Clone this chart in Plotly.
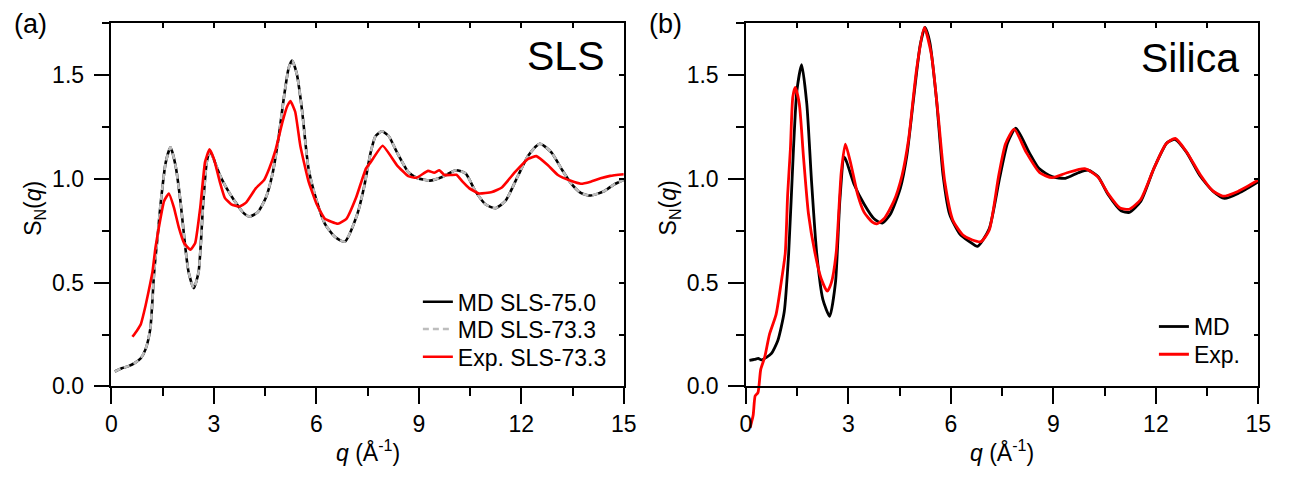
import plotly.graph_objects as go

# ---------------- data: panel (a) SLS ----------------
q_md750 = [0.1, 0.3, 0.5, 0.7, 0.86, 1.0, 1.14, 1.25, 1.35, 1.44, 1.59, 1.73, 1.875, 2.02, 2.16, 2.26,
           2.41, 2.55, 2.69, 2.79, 2.88, 3.03, 3.17, 3.37, 3.61, 3.85, 4.04, 4.28, 4.52, 4.71, 4.9,
           5.05, 5.19, 5.29, 5.43, 5.58, 5.77, 6.01, 6.25, 6.54, 6.83, 7.2, 7.39, 7.59, 7.73, 7.92,
           8.12, 8.36, 8.69, 8.93, 9.32, 9.7, 10.09, 10.37, 10.66, 10.95, 11.24, 11.53, 11.91, 12.2,
           12.54, 12.88, 13.17, 13.45, 13.74, 14.03, 14.41, 14.7, 15.0]
s_md750 = [0.072, 0.088, 0.098, 0.115, 0.136, 0.18, 0.28, 0.55, 0.72, 0.88, 1.08, 1.152, 1.066, 0.893,
           0.674, 0.55, 0.474, 0.55, 0.893, 1.081, 1.136, 1.081, 1.02, 0.956, 0.893, 0.839, 0.819, 0.839,
           0.909, 1.02, 1.207, 1.394, 1.535, 1.571, 1.504, 1.332, 1.05, 0.893, 0.784, 0.721, 0.698,
           0.831, 0.956, 1.128, 1.206, 1.23, 1.206, 1.128, 1.034, 1.006, 0.992, 1.011, 1.042, 1.026,
           0.94, 0.878, 0.859, 0.893, 1.018, 1.112, 1.17, 1.128, 1.05, 0.98, 0.933, 0.92, 0.94, 0.972,
           0.995]
# MD SLS-73.3 lies on top of MD SLS-75.0 in the figure
q_md733 = list(q_md750)
s_md733 = list(s_md750)

q_exp_sls = [0.615, 0.75, 0.86, 1.0, 1.14, 1.2, 1.29, 1.39, 1.54, 1.68, 1.83, 1.97, 2.13, 2.31, 2.45,
             2.6, 2.74, 2.87, 3.0, 3.17, 3.32, 3.51, 3.75, 3.94, 4.23, 4.47, 4.62, 4.81, 5.0, 5.14,
             5.24, 5.38, 5.53, 5.77, 6.01, 6.25, 6.63, 6.88, 7.16, 7.45, 7.59, 7.94, 8.36, 8.69, 8.93,
             9.27, 9.45, 9.6, 9.75, 9.94, 10.1, 10.28, 10.47, 10.76, 11.14, 11.43, 11.82, 12.2, 12.44,
             12.78, 13.07, 13.45, 13.74, 14.03, 14.32, 14.6, 15.0]
s_exp_sls = [0.239, 0.27, 0.30, 0.39, 0.50, 0.55, 0.67, 0.768, 0.893, 0.93, 0.862, 0.768, 0.69, 0.659,
             0.69, 0.862, 1.081, 1.143, 1.097, 0.988, 0.909, 0.878, 0.867, 0.886, 0.956, 0.995, 1.05,
             1.143, 1.27, 1.348, 1.376, 1.324, 1.16, 0.988, 0.878, 0.808, 0.784, 0.808, 0.909, 1.05,
             1.081, 1.16, 1.066, 1.014, 1.006, 1.039, 1.03, 1.042, 1.019, 1.019, 1.02, 0.987, 0.956,
             0.930, 0.937, 0.959, 1.034, 1.097, 1.11, 1.066, 1.019, 0.991, 0.977, 0.987, 1.003, 1.015,
             1.023]

# ---------------- data: panel (b) Silica ----------------
q_md_si = [0.1, 0.25, 0.36, 0.45, 0.6, 0.74, 0.93, 1.12, 1.25, 1.39, 1.49, 1.63, 1.78, 1.92, 2.07,
           2.25, 2.45, 2.62, 2.75, 2.88, 3.17, 3.46, 3.75, 3.99, 4.23, 4.52, 4.71, 4.9, 5.1, 5.24,
           5.38, 5.58, 5.77, 5.96, 6.25, 6.54, 6.78, 7.12, 7.42, 7.66, 7.9, 8.29, 8.58, 8.96, 9.35,
           9.73, 10.02, 10.31, 10.6, 10.98, 11.22, 11.56, 11.94, 12.33, 12.57, 12.9, 13.28, 13.67,
           14.01, 14.44, 15.0]
s_md_si = [0.125, 0.13, 0.135, 0.128, 0.14, 0.158, 0.22, 0.36, 0.643, 1.144, 1.425, 1.551, 1.363,
           0.987, 0.643, 0.42, 0.338, 0.50, 0.9, 1.105, 0.972, 0.878, 0.808, 0.787, 0.831, 0.956,
           1.113, 1.378, 1.645, 1.73, 1.66, 1.378, 1.018, 0.831, 0.737, 0.698, 0.675, 0.76, 1.0,
           1.175, 1.245, 1.128, 1.05, 1.011, 1.003, 1.03, 1.042, 1.011, 0.925, 0.847, 0.839, 0.893,
           1.05, 1.175, 1.19, 1.128, 1.018, 0.941, 0.906, 0.933, 0.987]

q_exp_si = [0.12, 0.21, 0.27, 0.35, 0.43, 0.55, 0.69, 0.88, 1.03, 1.15, 1.22, 1.3, 1.37, 1.44, 1.56,
            1.68, 1.83, 2.02, 2.2, 2.38, 2.5, 2.64, 2.79, 2.91, 3.08, 3.27, 3.46, 3.7, 3.83, 4.04,
            4.33, 4.57, 4.76, 5.0, 5.22, 5.43, 5.63, 5.82, 6.06, 6.35, 6.63, 6.88, 7.12, 7.4, 7.6,
            7.85, 8.2, 8.6, 8.96, 9.4, 9.92, 10.3, 10.6, 10.95, 11.22, 11.55, 11.94, 12.3, 12.57,
            12.9, 13.3, 13.65, 13.96, 14.4, 15.0]
s_exp_si = [-0.20, -0.139, -0.045, -0.03, 0.08, 0.142, 0.252, 0.346, 0.50, 0.643, 0.925, 1.144, 1.394,
            1.441, 1.363, 1.113, 0.831, 0.643, 0.52, 0.459, 0.5, 0.643, 1.034, 1.168, 1.065, 0.925,
            0.839, 0.792, 0.784, 0.808, 0.893, 1.018, 1.19, 1.535, 1.73, 1.598, 1.3, 0.987, 0.8,
            0.73, 0.706, 0.698, 0.753, 1.018, 1.17, 1.24, 1.13, 1.03, 1.006, 1.03, 1.05, 1.01, 0.93,
            0.86, 0.854, 0.9, 1.05, 1.17, 1.195, 1.13, 1.02, 0.945, 0.917, 0.94, 0.995]

x_ticks = [0, 3, 6, 9, 12, 15]
x_tick_text = ["0", "3", "6", "9", "12", "15"]
y_ticks = [0.0, 0.5, 1.0, 1.5]
y_tick_text = ["0.0", "0.5", "1.0", "1.5"]

# ---------------- layout geometry (pixels) ----------------
W, H = 1295, 488
FONT = "Liberation Sans, Arial, sans-serif"
A_X0, A_X1 = 107, 627
B_X0, B_X1 = 751, 1271
Y_TOP, Y_ZERO = 24, 397
Y_MAX, Y_MIN_DATA = 1.75, -0.25
UNIT = (Y_ZERO - Y_TOP) / Y_MAX
Y_BOT_DATA = Y_ZERO - Y_MIN_DATA * UNIT


def px(x):
    return x / W


def py(y):
    return 1 - y / H


fig = go.Figure()

# empty traces so that the frame (tick) axes get their own subplots
for xa, ya in (("x3", "y3"), ("x5", "y3"), ("x3", "y5"), ("x4", "y4"), ("x6", "y4"), ("x4", "y6")):
    fig.add_trace(go.Scatter(x=[None], y=[None], mode="lines", xaxis=xa, yaxis=ya,
                             showlegend=False, hoverinfo="skip"))

fig.add_trace(go.Scatter(x=q_md750, y=s_md750, mode="lines", name="MD SLS-75.0",
                         line=dict(color="black", width=2.6, shape="spline", smoothing=0.6),
                         xaxis="x", yaxis="y", legend="legend"))
fig.add_trace(go.Scatter(x=q_md733, y=s_md733, mode="lines", name="MD SLS-73.3",
                         line=dict(color="#bdbdbd", width=2.6, dash="6px,4px", shape="spline", smoothing=0.6),
                         xaxis="x", yaxis="y", legend="legend2"))
fig.add_trace(go.Scatter(x=q_exp_sls, y=s_exp_sls, mode="lines", name="Exp. SLS-73.3",
                         line=dict(color="#ff0000", width=2.6, shape="spline", smoothing=0.4),
                         xaxis="x", yaxis="y", legend="legend3"))
fig.add_trace(go.Scatter(x=q_md_si, y=s_md_si, mode="lines", name="MD",
                         line=dict(color="black", width=2.8, shape="spline", smoothing=0.6),
                         xaxis="x2", yaxis="y2", legend="legend4"))
fig.add_trace(go.Scatter(x=q_exp_si, y=s_exp_si, mode="lines", name="Exp.",
                         line=dict(color="#ff0000", width=2.8, shape="spline", smoothing=0.6),
                         xaxis="x2", yaxis="y2", legend="legend5"))

hidden = dict(visible=False, showgrid=False, zeroline=False)
tickfont = dict(family=FONT, size=23, color="black")


def main_x(dom, anchor):
    return dict(domain=dom, range=[0, 15], anchor=anchor, showgrid=False, zeroline=False,
                showline=True, linecolor="black", linewidth=1.5, ticks="outside", ticklen=16,
                tickwidth=1.5, tickcolor="black", tickvals=x_ticks, ticktext=x_tick_text,
                tickfont=tickfont,
                minor=dict(dtick=1.5, tick0=0, ticks="outside", ticklen=8, tickwidth=1.5,
                           tickcolor="black", showgrid=False))


def main_y(dom, anchor):
    return dict(domain=dom, range=[0, Y_MAX], anchor=anchor, showgrid=False, zeroline=False,
                showline=True, linecolor="black", linewidth=1.5, ticks="outside", ticklen=16,
                tickwidth=1.5, tickcolor="black", tickvals=y_ticks, ticktext=y_tick_text,
                tickfont=tickfont, ticklabelstandoff=5,
                minor=dict(dtick=0.25, tick0=0, ticks="outside", ticklen=8, tickwidth=1.5,
                           tickcolor="black", showgrid=False))


def top_x(overlay, anchor):
    return dict(overlaying=overlay, side="top", anchor=anchor, range=[0, 15], showgrid=False,
                zeroline=False, showline=True, linecolor="black", linewidth=1.5, ticks="inside",
                ticklen=5, tickwidth=1.5, tickcolor="black", dtick=1.5, tick0=0,
                showticklabels=False)


def right_y(overlay, anchor):
    return dict(overlaying=overlay, side="right", anchor=anchor, range=[0, Y_MAX], showgrid=False,
                zeroline=False, showline=True, linecolor="black", linewidth=1.5, ticks="inside",
                ticklen=5, tickwidth=1.5, tickcolor="black", dtick=0.25, tick0=0,
                showticklabels=False)


def legend_at(x_text, y_row):
    return dict(x=px(x_text - 40), y=py(y_row), xanchor="left", yanchor="middle",
                bgcolor="rgba(0,0,0,0)", borderwidth=0,
                font=dict(family=FONT, size=23, color="black"))


dom_a = [px(A_X0), px(A_X1)]
dom_b = [px(B_X0), px(B_X1)]
dom_y_data = [py(Y_BOT_DATA), py(Y_TOP)]
dom_y_frame = [py(Y_ZERO), py(Y_TOP)]

fig.update_layout(
    width=W, height=H,
    margin=dict(l=0, r=0, t=0, b=0),
    paper_bgcolor="white", plot_bgcolor="rgba(0,0,0,0)",
    font=dict(family=FONT, size=23, color="black"),
    xaxis=dict(domain=dom_a, range=[0, 15], anchor="y", **hidden),
    yaxis=dict(domain=dom_y_data, range=[Y_MIN_DATA, Y_MAX], anchor="x", **hidden),
    xaxis2=dict(domain=dom_b, range=[0, 15], anchor="y2", **hidden),
    yaxis2=dict(domain=dom_y_data, range=[Y_MIN_DATA, Y_MAX], anchor="x2", **hidden),
    xaxis3=main_x(dom_a, "y3"),
    yaxis3=main_y(dom_y_frame, "x3"),
    xaxis4=main_x(dom_b, "y4"),
    yaxis4=main_y(dom_y_frame, "x4"),
    xaxis5=top_x("x3", "y3"),
    yaxis5=right_y("y3", "x3"),
    xaxis6=top_x("x4", "y4"),
    yaxis6=right_y("y4", "x4"),
    legend=legend_at(458, 310),
    legend2=legend_at(458, 338),
    legend3=legend_at(458, 366.5),
    legend4=legend_at(1205, 335.5),
    legend5=legend_at(1205, 364),
    showlegend=True,
)

ann = []
ann.append(dict(text="(a)", x=px(25), y=py(25), xref="paper", yref="paper", showarrow=False,
                xanchor="center", yanchor="middle", font=dict(family=FONT, size=27, color="black")))
ann.append(dict(text="(b)", x=px(669), y=py(25), xref="paper", yref="paper", showarrow=False,
                xanchor="center", yanchor="middle", font=dict(family=FONT, size=27, color="black")))
ann.append(dict(text="SLS", x=px(610), y=py(58), xref="paper", yref="paper", showarrow=False,
                xanchor="right", yanchor="middle", font=dict(family=FONT, size=41, color="black")))
ann.append(dict(text="Silica", x=px(1253), y=py(60), xref="paper", yref="paper", showarrow=False,
                xanchor="right", yanchor="middle", font=dict(family=FONT, size=41, color="black")))
for cx in (29, 29 + (B_X0 - A_X0)):
    ann.append(dict(text="S<sub>N</sub>(<i>q</i>)", x=px(cx), y=py(214), xref="paper", yref="paper",
                    showarrow=False, textangle=-90, xanchor="center", yanchor="middle",
                    font=dict(family=FONT, size=23, color="black")))
for cx in ((A_X0 + A_X1) / 2, (B_X0 + B_X1) / 2):
    ann.append(dict(text="<i>q</i> (Å<sup>-1</sup>)", x=px(cx), y=py(463), xref="paper", yref="paper",
                    showarrow=False, xanchor="center", yanchor="middle",
                    font=dict(family=FONT, size=23, color="black")))
fig.update_layout(annotations=ann)

fig.write_html("out.html", config={"displayModeBar": False},
               post_script="document.body.style.margin='0';document.body.style.overflow='hidden';")
